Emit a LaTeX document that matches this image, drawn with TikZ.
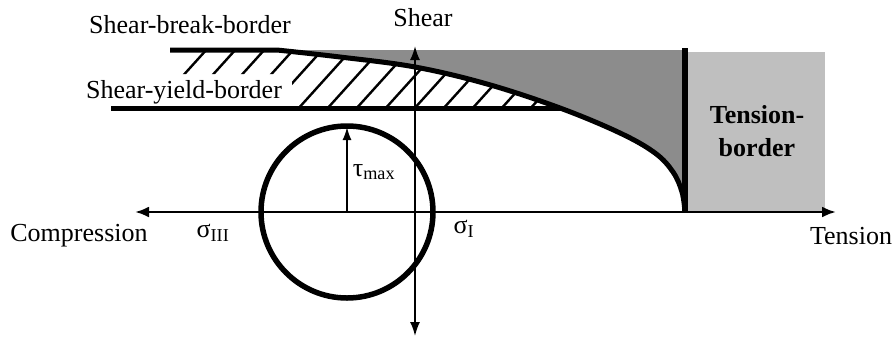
\documentclass[tikz,border=0pt]{standalone}
\usepackage{fontspec}
\setmainfont{Liberation Serif}
\usepackage{tikz}
\usetikzlibrary{arrows.meta}

\tikzset{
  lbl/.style={inner sep=0pt, font=\fontsize{26}{30}\selectfont},
  axis/.style={line width=2.6pt, {Latex[length=14pt,width=11pt]}-{Latex[length=14pt,width=11pt]}},
  border/.style={line width=5pt}
}

\begin{document}
\begin{tikzpicture}[x=1pt,y=-1pt]
            \useasboundingbox (0,0) rectangle (896,338);
            \fill[black!25] (685,52) rectangle (825,212);
            \fill[black!45] plot[smooth,tension=0.6] coordinates {(277,50) (340,57) (415,67) (487,84) (560,108) (620,133) (655,153) (673,172) (682,192) (685,212)} -- (685,50) -- cycle;
            \begin{scope}
              \clip (170,0) rectangle (700,108);
              \clip (175,50) -- plot[smooth,tension=0.6] coordinates {(277,50) (340,57) (415,67) (487,84) (560,108) (620,133) (655,153) (673,172) (682,192) (685,212)} -- (292,212) -- (292,74) -- (175,74) -- cycle;
              \foreach \k in {-5,...,9}
                \draw[line width=2.4pt] (297+29*\k,110) -- ++(56,-62);
            \end{scope}
            \draw[border] (170,50) -- plot[smooth,tension=0.6] coordinates {(277,50) (340,57) (415,67) (487,84) (560,108) (620,133) (655,153) (673,172) (682,192) (685,212)};
            \draw[border] (111,108) -- (560,108);
            \draw[line width=6pt] (685,48) -- (685,212);
            \coordinate (cmp) at (135,212);
            \coordinate (tns) at (836,212);
            \coordinate (shtop) at (415,46);
            \coordinate (shbot) at (415,336);
            \coordinate (ctr) at (347,212);
            \coordinate (ctop) at (347,127);
            \draw[axis] (cmp) -- (tns);
            \draw[line width=1.8pt, {Latex[length=14pt,width=10pt]}-{Latex[length=14pt,width=10pt]}] (shtop) -- (shbot);
            \draw[line width=5.5pt] (ctr) circle (86);
            \draw[line width=1.8pt, -{Latex[length=13pt,width=9pt]}] (ctr) -- (ctop);
            \node[lbl] (brk) at (190,25) {Shear-break-border};
            \node[lbl] (yld) at (184,92) {Shear-yield-border};
            \node[lbl] (shr) at (423,18) {Shear};
            \node[lbl] (cprs) at (79,236) {Compression};
            \node[lbl] (tens) at (851,236) {Tension};
            \node[lbl] (s3) at (213,233) {σ\textsubscript{III}};
            \node[lbl] (s1) at (464,229) {σ\textsubscript{I}};
            \node[lbl] (tau) at (374,172) {τ\textsubscript{max}};
            \node[lbl, font=\fontsize{26}{33}\selectfont\bfseries, align=center] (tb) at (757,131) {Tension-\\border};
\end{tikzpicture}
\end{document}
